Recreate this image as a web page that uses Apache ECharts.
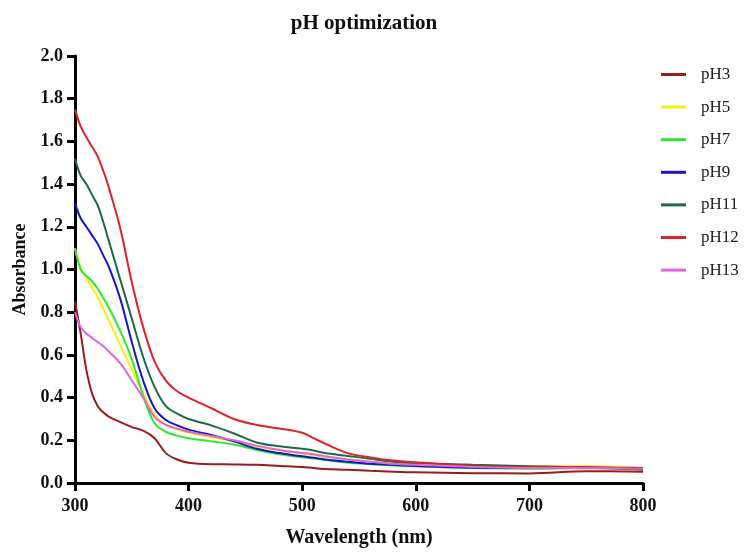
<!DOCTYPE html>
<html>
<head>
<meta charset="utf-8">
<script src="https://cdn.jsdelivr.net/npm/echarts@6/dist/echarts.min.js"></script>
<style>html,body{margin:0;padding:0;background:#fff}#c{width:750px;height:553px}</style>
</head>
<body>
<div id="c"></div>
<script>
const wavelength = [300,305,310,315,320,325,330,340,350,360,370,380,390,400,420,440,460,480,500,510,520,540,560,580,600,650,700,750,800];
const pH3  = [0.85,0.70,0.53,0.42,0.36,0.33,0.31,0.285,0.262,0.245,0.21,0.14,0.11,0.095,0.088,0.087,0.085,0.08,0.075,0.07,0.066,0.062,0.057,0.053,0.05,0.046,0.045,0.055,0.053];
const pH5  = [1.10,1.01,0.96,0.915,0.87,0.815,0.76,0.645,0.53,0.42,0.32,0.272,0.25,0.235,0.215,0.195,0.17,0.152,0.138,0.13,0.122,0.11,0.1,0.092,0.087,0.08,0.078,0.078,0.072];
const pH7  = [1.10,1.00,0.97,0.945,0.91,0.865,0.82,0.71,0.58,0.41,0.28,0.24,0.222,0.21,0.195,0.18,0.155,0.135,0.12,0.115,0.108,0.095,0.088,0.082,0.078,0.07,0.067,0.07,0.068];
const pH9  = [1.31,1.24,1.20,1.16,1.12,1.065,1.01,0.86,0.66,0.48,0.35,0.295,0.27,0.25,0.225,0.195,0.16,0.14,0.125,0.118,0.11,0.1,0.09,0.085,0.08,0.072,0.07,0.072,0.07];
const pH11 = [1.52,1.44,1.40,1.35,1.30,1.22,1.13,0.95,0.77,0.59,0.45,0.36,0.325,0.30,0.27,0.232,0.19,0.172,0.16,0.152,0.14,0.127,0.113,0.1,0.094,0.085,0.079,0.072,0.063];
const pH12 = [1.75,1.67,1.62,1.575,1.53,1.46,1.38,1.19,0.94,0.73,0.57,0.48,0.43,0.40,0.35,0.30,0.272,0.255,0.235,0.21,0.185,0.14,0.12,0.105,0.097,0.08,0.075,0.075,0.063];
const pH13 = [0.80,0.73,0.70,0.68,0.66,0.64,0.615,0.56,0.48,0.40,0.31,0.272,0.255,0.24,0.22,0.20,0.175,0.155,0.14,0.135,0.125,0.11,0.1,0.09,0.085,0.075,0.07,0.07,0.068];

const seriesNames = ['pH3','pH5','pH7','pH9','pH11','pH12','pH13'];
const seriesValues = [pH3,pH5,pH7,pH9,pH11,pH12,pH13];
const seriesColors = ['#9a1c1c','#f2f20c','#2ee82e','#1414d2','#1b6b49','#e02222','#e066d8'];
const yTickLabels = ['0.0','0.2','0.4','0.6','0.8','1.0','1.2','1.4','1.6','1.8','2.0'];

const FONT = "'Liberation Serif','Times New Roman',serif";
const chart = echarts.init(document.getElementById('c'), null, {renderer:'canvas'});
chart.setOption({
  backgroundColor:'#ffffff',
  animation:false,
  title:{
    text:'pH optimization', left:359, top:8, textAlign:'center',
    textStyle:{fontFamily:FONT, fontWeight:'bold', fontSize:21, color:'#111'}
  },
  legend:{
    orient:'vertical', left:656, top:61, icon:'rect', itemWidth:25, itemHeight:3,
    itemGap:15.6,
    textStyle:{fontFamily:FONT, fontSize:17, lineHeight:17, color:'#222', padding:[0,0,0,10]},
    data:seriesNames
  },
  grid:{left:75, right:107, top:56, bottom:70, containLabel:false},
  xAxis:{
    type:'value', min:300, max:800, interval:100,
    name:'Wavelength (nm)', nameLocation:'middle', nameGap:45,
    nameTextStyle:{fontFamily:FONT, fontWeight:'bold', fontSize:20, color:'#111'},
    axisLine:{lineStyle:{color:'#000', width:3}},
    axisTick:{length:8, lineStyle:{color:'#000', width:3}},
    axisLabel:{fontFamily:FONT, fontWeight:'bold', fontSize:18, color:'#111', margin:14},
    splitLine:{show:false}
  },
  yAxis:{
    type:'value', min:0, max:2, interval:0.2,
    name:'Absorbance', nameLocation:'middle', nameGap:46, nameRotate:90,
    nameTextStyle:{fontFamily:FONT, fontWeight:'bold', fontSize:18, color:'#111'},
    axisLine:{show:true, lineStyle:{color:'#000', width:3}},
    axisTick:{show:true, length:8, lineStyle:{color:'#000', width:3}},
    axisLabel:{fontFamily:FONT, fontWeight:'bold', fontSize:18, color:'#111', margin:12,
      formatter:(v)=>yTickLabels[Math.round(v/0.2)]},
    splitLine:{show:false}
  },
  series:seriesNames.map((n,i)=>({
    name:n, type:'line', smooth:0.35, symbol:'none',
    color:seriesColors[i],
    lineStyle:{width:2, color:seriesColors[i]},
    data:wavelength.map((w,j)=>[w, seriesValues[i][j]])
  }))
});
</script>
</body>
</html>
